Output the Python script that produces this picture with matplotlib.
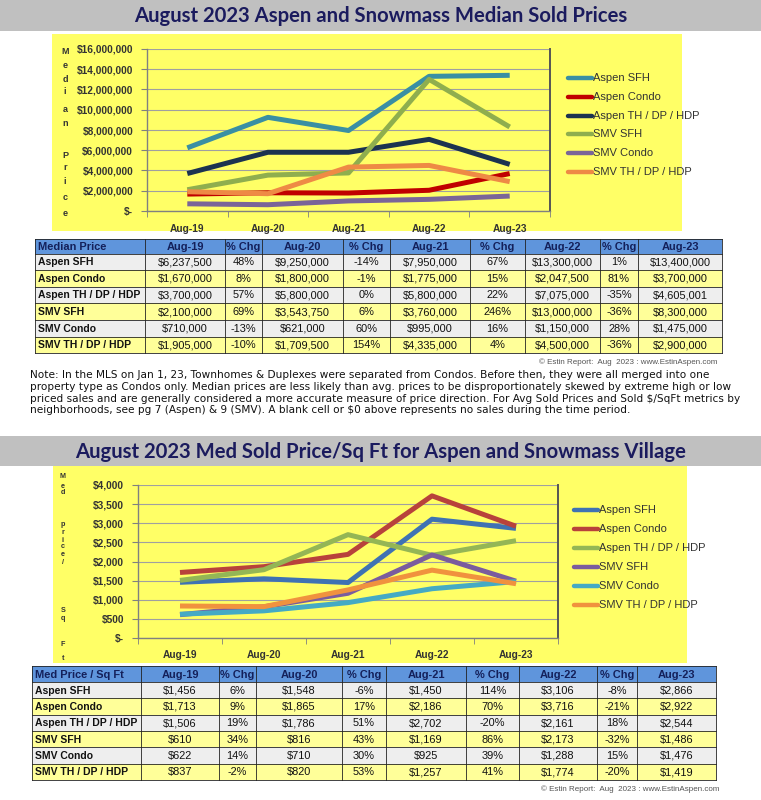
import matplotlib
matplotlib.use('Agg')
import matplotlib.pyplot as plt
from matplotlib.patches import Rectangle
from matplotlib.ticker import FixedLocator, FuncFormatter

# ── Data ──────────────────────────────────────────────────────────────────
periods = ['Aug-19', 'Aug-20', 'Aug-21', 'Aug-22', 'Aug-23']
segments = ['Aspen SFH', 'Aspen Condo', 'Aspen TH / DP / HDP',
            'SMV SFH', 'SMV Condo', 'SMV TH / DP / HDP']

aspen_sfh_price = [6237500, 9250000, 7950000, 13300000, 13400000]
aspen_condo_price = [1670000, 1800000, 1775000, 2047500, 3700000]
aspen_th_price = [3700000, 5800000, 5800000, 7075000, 4605001]
smv_sfh_price = [2100000, 3543750, 3760000, 13000000, 8300000]
smv_condo_price = [710000, 621000, 995000, 1150000, 1475000]
smv_th_price = [1905000, 1709500, 4335000, 4500000, 2900000]

aspen_sfh_price_chg = [48, -14, 67, 1]
aspen_condo_price_chg = [8, -1, 15, 81]
aspen_th_price_chg = [57, 0, 22, -35]
smv_sfh_price_chg = [69, 6, 246, -36]
smv_condo_price_chg = [-13, 60, 16, 28]
smv_th_price_chg = [-10, 154, 4, -36]

aspen_sfh_sqft = [1456, 1548, 1450, 3106, 2866]
aspen_condo_sqft = [1713, 1865, 2186, 3716, 2922]
aspen_th_sqft = [1506, 1786, 2702, 2161, 2544]
smv_sfh_sqft = [610, 816, 1169, 2173, 1486]
smv_condo_sqft = [622, 710, 925, 1288, 1476]
smv_th_sqft = [837, 820, 1257, 1774, 1419]

aspen_sfh_sqft_chg = [6, -6, 114, -8]
aspen_condo_sqft_chg = [9, 17, 70, -21]
aspen_th_sqft_chg = [19, 51, -20, 18]
smv_sfh_sqft_chg = [34, 43, 86, -32]
smv_condo_sqft_chg = [14, 30, 39, 15]
smv_th_sqft_chg = [-2, 53, 41, -20]

price_series = [aspen_sfh_price, aspen_condo_price, aspen_th_price,
                smv_sfh_price, smv_condo_price, smv_th_price]
price_chg = [aspen_sfh_price_chg, aspen_condo_price_chg, aspen_th_price_chg,
             smv_sfh_price_chg, smv_condo_price_chg, smv_th_price_chg]
sqft_series = [aspen_sfh_sqft, aspen_condo_sqft, aspen_th_sqft,
               smv_sfh_sqft, smv_condo_sqft, smv_th_sqft]
sqft_chg = [aspen_sfh_sqft_chg, aspen_condo_sqft_chg, aspen_th_sqft_chg,
            smv_sfh_sqft_chg, smv_condo_sqft_chg, smv_th_sqft_chg]

price_colors = ['#3a8fa3', '#c00000', '#1c3350', '#8fae4e', '#7a6598', '#ee8a45']
sqft_colors = ['#3f72b3', '#b8423b', '#94b655', '#7a5c9e', '#45aac4', '#f0923e']

NOTE = ("Note: In the MLS on Jan 1, 23, Townhomes & Duplexes were separated from Condos. Before then, they were all merged into one\n"
        "property type as Condos only. Median prices are less likely than avg. prices to be disproportionately skewed by extreme high or low\n"
        "priced sales and are generally considered a more accurate measure of price direction. For Avg Sold Prices and Sold $/SqFt metrics by\n"
        "neighborhoods, see pg 7 (Aspen) & 9 (SMV). A blank cell or $0 above represents no sales during the time period.")
COPY = '\u00a9 Estin Report:  Aug  2023 : www.EstinAspen.com'

# ── Layout helpers ────────────────────────────────────────────────────────
W, H = 761, 800
NAVY = '#1b1b5e'
GRAY_BAND = '#c0c0c0'
PANEL_YEL = '#ffff66'
ROW_YEL = '#ffff99'
ROW_GRAY = '#eeeeee'
HEAD_BLUE = '#5f95dc'
CHART_FONT = ['Liberation Sans', 'DejaVu Sans']
TABLE_FONT = ['Liberation Sans', 'DejaVu Sans']

fig = plt.figure(figsize=(W / 100, H / 100), dpi=100)
bg = fig.add_axes([0, 0, 1, 1], zorder=0)
bg.set_xlim(0, W); bg.set_ylim(H, 0); bg.axis('off')


def px_axes(x0, y0, x1, y1):
    return fig.add_axes([x0 / W, 1 - y1 / H, (x1 - x0) / W, (y1 - y0) / H], zorder=2)


def title_band(y0, y1, text):
    bg.add_patch(Rectangle((0, y0), W, y1 - y0, color=GRAY_BAND, lw=0))
    bg.text(381, (y0 + y1) / 2 + 0.5, text, ha='center', va='center',
            fontsize=14.6, fontweight='bold', color=NAVY, family=['Lato', 'DejaVu Sans'])


def line_chart(box, panel, series, colors, ymax, ystep, lw):
    bg.add_patch(Rectangle((panel[0], panel[1]), panel[2] - panel[0], panel[3] - panel[1],
                           color=PANEL_YEL, lw=0))
    ax = px_axes(*box)
    ax.set_facecolor('none')
    x = list(range(len(periods)))
    for vals, c in zip(series, colors):
        ax.plot(x, vals, color=c, lw=lw, solid_capstyle='butt', solid_joinstyle='round', zorder=3)
    ax.set_xlim(-0.5, len(periods) - 0.5)
    ax.set_ylim(0, ymax)
    ax.yaxis.set_major_locator(FixedLocator(list(range(0, ymax + 1, ystep))))
    ax.yaxis.set_major_formatter(FuncFormatter(lambda v, p: '$-' if v == 0 else f'${v:,.0f}'))
    ax.set_xticks(x)
    ax.set_xticklabels(periods)
    ax.set_xticks([i - 0.5 for i in range(len(periods) + 1)], minor=True)
    ax.tick_params(axis='x', which='major', length=0, pad=9)
    ax.tick_params(axis='x', which='minor', length=4, color='#808080', direction='out')
    ax.tick_params(axis='y', length=4, color='#808080', pad=6)
    for lab in ax.get_xticklabels() + ax.get_yticklabels():
        lab.set_family(CHART_FONT); lab.set_fontsize(7.3)
        lab.set_fontweight('bold'); lab.set_color('#333333')
    ax.grid(axis='y', color='#a0a0a0', lw=0.8, zorder=1)
    ax.set_axisbelow(True)
    for s in ['left', 'bottom']:
        ax.spines[s].set_color('#808080'); ax.spines[s].set_linewidth(1.0)
    ax.spines['top'].set_visible(False)
    ax.spines['right'].set_color('#555555'); ax.spines['right'].set_linewidth(1.4)
    return ax


def legend_block(x0, y0, dy, colors):
    for i, (lab, c) in enumerate(zip(segments, colors)):
        y = y0 + i * dy
        bg.plot([x0, x0 + 24], [y, y], color=c, lw=3.2, solid_capstyle='round')
        bg.text(x0 + 25, y, lab, ha='left', va='center', fontsize=8,
                color='#333333', family=CHART_FONT)


def stacked_label(x, letters, ys, size):
    for ch, y in zip(letters, ys):
        bg.text(x, y, ch, ha='center', va='center', fontsize=size, fontweight='bold',
                color='#333333', family=CHART_FONT)


def data_table(top, head_h, row_h, edges, header, series, chg, fmt):
    cols = [header]
    for i, p in enumerate(periods):
        cols.append(p)
        if i < len(periods) - 1:
            cols.append('% Chg')
    # header
    bg.add_patch(Rectangle((edges[0], top), edges[-1] - edges[0], head_h, color=HEAD_BLUE, lw=0))
    for j, c in enumerate(cols):
        cx = edges[0] + 3 if j == 0 else (edges[j] + edges[j + 1]) / 2
        bg.text(cx, top + head_h / 2 + 0.5, c, ha='left' if j == 0 else 'center', va='center',
                fontsize=7.9, fontweight='bold', color='#14205a', family=TABLE_FONT)
    # rows
    for r, (name, vals, chgs) in enumerate(zip(segments, series, chg)):
        y0 = top + head_h + r * row_h
        bg.add_patch(Rectangle((edges[0], y0), edges[-1] - edges[0], row_h,
                               color=ROW_GRAY if r % 2 == 0 else ROW_YEL, lw=0))
        cells = [name]
        for i, v in enumerate(vals):
            cells.append(fmt(v))
            if i < len(chgs):
                cells.append(f'{chgs[i]}%')
        for j, c in enumerate(cells):
            cx = edges[0] + 3 if j == 0 else (edges[j] + edges[j + 1]) / 2
            bg.text(cx, y0 + row_h / 2 + 0.5, c, ha='left' if j == 0 else 'center', va='center',
                    fontsize=7.5 if j == 0 else 7.9, fontweight='bold' if j == 0 else 'normal',
                    color='#111111', family=TABLE_FONT)
    bottom = top + head_h + len(segments) * row_h
    # borders
    for e in edges:
        bg.plot([e, e], [top, bottom], color='#222222', lw=0.6)
    bg.plot([edges[0], edges[-1]], [top, top], color='#222222', lw=0.6)
    for r in range(len(segments) + 1):
        y = top + head_h + r * row_h
        bg.plot([edges[0], edges[-1]], [y, y], color='#222222', lw=0.6)


# ── Section 1: median sold prices ────────────────────────────────────────
title_band(0, 31, 'August 2023 Aspen and Snowmass Median Sold Prices')
line_chart((147, 49, 550, 211), (52, 34, 682, 231), price_series, price_colors,
           16000000, 2000000, 3.6)
legend_block(568, 78, 18.8, price_colors)
stacked_label(65, list('Median') + list('Price'),
              [52, 66, 79, 92, 109, 123, 156, 167, 182, 198, 213], 6.5)
data_table(239, 14.5, 16.6, [35, 145, 225, 262, 343, 390, 470, 525, 600, 638, 722],
           'Median Price', price_series, price_chg, lambda v: f'${v:,.0f}')
bg.text(717, 362, COPY, ha='right', va='center', fontsize=5.8, color='#555555',
        family=TABLE_FONT)
bg.text(30, 370, NOTE, ha='left', va='top', fontsize=7.6, color='#111111',
        linespacing=1.22, family=['DejaVu Sans'])

# ── Section 2: median sold price per sq ft ───────────────────────────────
title_band(436, 466, 'August 2023 Med Sold Price/Sq Ft for Aspen and Snowmass Village')
line_chart((138, 485, 558, 638), (53, 466, 687, 663), sqft_series, sqft_colors,
           4000, 500, 3.6)
legend_block(574, 510, 19.0, sqft_colors)
stacked_label(63, list('Med') + list('price/') + list('Sq') + list('Ft'),
              [477, 486, 493, 525, 533, 540, 547, 554, 562, 610, 618, 645, 658], 5.2)
data_table(666, 16, 16.3, [32, 141, 219, 256, 342, 386, 466, 519, 597, 637, 716],
           'Med Price / Sq Ft', sqft_series, sqft_chg, lambda v: f'${v:,.0f}')
bg.text(719, 789, COPY, ha='right', va='center', fontsize=5.8, color='#555555',
        family=TABLE_FONT)

fig.savefig('out.png', dpi=100)
